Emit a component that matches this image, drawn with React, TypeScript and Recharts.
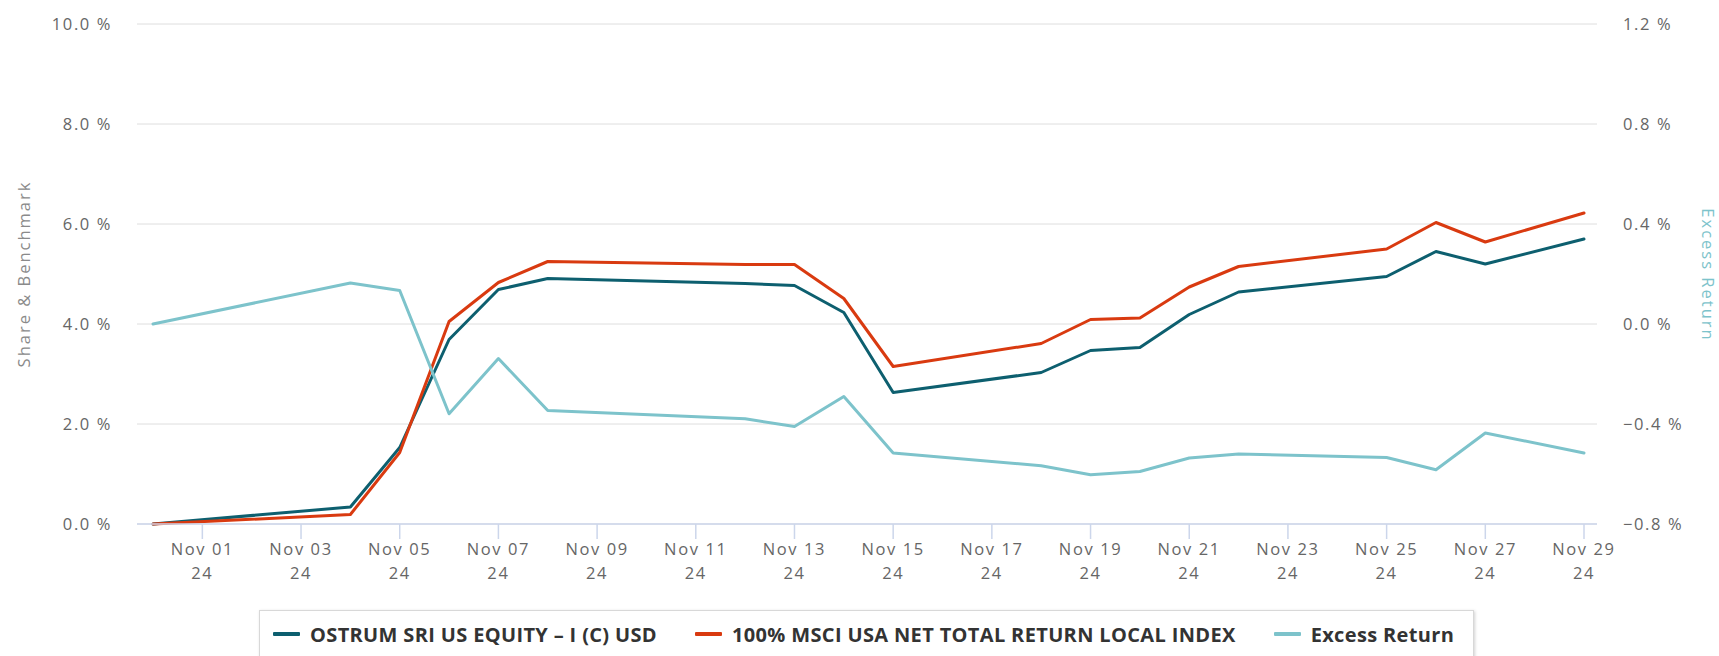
import { LineChart, Line, XAxis, YAxis, CartesianGrid } from 'recharts';

// trading days shown in the chart (Nov 1, Nov 11 and Nov 28 are missing in the source)
const dates = [
  '2024-10-31', '2024-11-04', '2024-11-05', '2024-11-06', '2024-11-07', '2024-11-08',
  '2024-11-12', '2024-11-13', '2024-11-14', '2024-11-15', '2024-11-18', '2024-11-19',
  '2024-11-20', '2024-11-21', '2024-11-22', '2024-11-25', '2024-11-26', '2024-11-27',
  '2024-11-29',
];

// cumulative returns, %
const fund = [0, 0.34, 1.53, 3.69, 4.69, 4.91, 4.81, 4.77, 4.23, 2.63, 3.03, 3.47, 3.53, 4.19, 4.64, 4.95, 5.45, 5.2, 5.7];
const benchmark = [0, 0.19, 1.43, 4.05, 4.83, 5.25, 5.19, 5.19, 4.51, 3.15, 3.61, 4.09, 4.12, 4.74, 5.15, 5.5, 6.03, 5.64, 6.22];
const excess = [0, 0.164, 0.134, -0.359, -0.138, -0.346, -0.379, -0.41, -0.29, -0.516, -0.567, -0.603, -0.59, -0.536, -0.52, -0.534, -0.583, -0.436, -0.516];

const tickDates = [
  '2024-11-01', '2024-11-03', '2024-11-05', '2024-11-07', '2024-11-09', '2024-11-11',
  '2024-11-13', '2024-11-15', '2024-11-17', '2024-11-19', '2024-11-21', '2024-11-23',
  '2024-11-25', '2024-11-27', '2024-11-29',
];
const leftTicks = [0, 2, 4, 6, 8, 10];
const rightTicks = [-0.8, -0.4, 0, 0.4, 0.8, 1.2];

const seriesNames = ['OSTRUM SRI US EQUITY – I (C) USD', '100% MSCI USA NET TOTAL RETURN LOCAL INDEX', 'Excess Return'];
const seriesColors = ['#0d5f6f', '#d93a10', '#7dc3cb'];

const DAY = 86400000;
const START = Date.parse(dates[0]);
const MONTHS = ['Jan', 'Feb', 'Mar', 'Apr', 'May', 'Jun', 'Jul', 'Aug', 'Sep', 'Oct', 'Nov', 'Dec'];
const FONT = "'Open Sans', sans-serif";

const dayOf = (d: string) => Math.round((Date.parse(d) - START) / DAY);

const data = dates.map((d, i) => ({
  day: dayOf(d),
  fund: fund[i],
  benchmark: benchmark[i],
  excess: excess[i],
}));
const tickDays = tickDates.map(dayOf);

const fmtPct = (v: number) => `${v < 0 ? '\u2212' : ''}${Math.abs(v).toFixed(1)} %`;

const DateTick = (props: any) => {
  const { x, y, payload } = props;
  const d = new Date(START + payload.value * DAY);
  const line1 = `${MONTHS[d.getUTCMonth()]} ${String(d.getUTCDate()).padStart(2, '0')}`;
  const line2 = String(d.getUTCFullYear()).slice(2);
  return (
    <text x={x} y={y} textAnchor="middle" fill="#666" fontSize={16.5} fontFamily={FONT} style={{ letterSpacing: 1.6 }}>
      <tspan x={x} dy={16}>{line1}</tspan>
      <tspan x={x} dy={24}>{line2}</tspan>
    </text>
  );
};

// rotated axis title; own prop names so the cloned label props don't clash
const AxisTitle = ({ posX, posY, rot, text, color }: any) => (
  <g transform={`translate(${posX}, ${posY}) rotate(${rot})`}>
    <text
      x={0}
      y={0}
      textAnchor="middle"
      dominantBaseline="central"
      fill={color}
      fontSize={16.5}
      fontFamily={FONT}
      style={{ letterSpacing: 2 }}
    >
      {text}
    </text>
  </g>
);

export default function App() {
  const tickStyle = { fill: '#666', fontSize: 16.5, fontFamily: FONT, letterSpacing: 1.6 };
  return (
    <div style={{ position: 'absolute', left: 0, top: 0, width: 1719, height: 656, background: '#fff', overflow: 'hidden' }}>
      <LineChart width={1719} height={656} data={data} margin={{ top: 24, right: 0, bottom: 72, left: 0 }}>
        <CartesianGrid yAxisId="left" vertical={false} stroke="#dedede" strokeWidth={1} />
        <XAxis
          dataKey="day"
          type="number"
          domain={[0, 29]}
          ticks={tickDays}
          interval={0}
          padding={{ left: 16, right: 13 }}
          height={60}
          tickSize={15}
          tickMargin={0}
          axisLine={{ stroke: '#ccd6eb', strokeWidth: 1.5 }}
          tickLine={{ stroke: '#ccd6eb', strokeWidth: 1.5 }}
          tick={<DateTick />}
        />
        <YAxis
          yAxisId="left"
          orientation="left"
          width={137}
          domain={[0, 10]}
          ticks={leftTicks}
          interval={0}
          axisLine={false}
          tickLine={false}
          tickSize={0}
          tickMargin={25}
          tick={tickStyle}
          tickFormatter={fmtPct}
          label={<AxisTitle posX={23} posY={274} rot={-90} text="Share & Benchmark" color="#8a8a8a" />}
        />
        <YAxis
          yAxisId="right"
          orientation="right"
          width={122}
          domain={[-0.8, 1.2]}
          ticks={rightTicks}
          interval={0}
          axisLine={false}
          tickLine={false}
          tickSize={0}
          tickMargin={26}
          tick={tickStyle}
          tickFormatter={fmtPct}
          label={<AxisTitle posX={1708} posY={275} rot={90} text="Excess Return" color={seriesColors[2]} />}
        />
        <Line yAxisId="left" type="linear" dataKey="fund" name={seriesNames[0]} stroke={seriesColors[0]} strokeWidth={3} dot={false} strokeLinejoin="round" strokeLinecap="round" isAnimationActive={false} />
        <Line yAxisId="left" type="linear" dataKey="benchmark" name={seriesNames[1]} stroke={seriesColors[1]} strokeWidth={3} dot={false} strokeLinejoin="round" strokeLinecap="round" isAnimationActive={false} />
        <Line yAxisId="right" type="linear" dataKey="excess" name={seriesNames[2]} stroke={seriesColors[2]} strokeWidth={3} dot={false} strokeLinejoin="round" strokeLinecap="round" isAnimationActive={false} />
      </LineChart>

      {/* legend box */}
      <div
        style={{
          position: 'absolute',
          left: 259,
          top: 610,
          width: 1215,
          height: 60,
          border: '1px solid #d8d8d8',
          boxShadow: '1px 1px 3px rgba(0,0,0,0.18)',
          background: '#fff',
          display: 'flex',
          alignItems: 'flex-start',
          paddingLeft: 13,
          boxSizing: 'border-box',
          gap: 38,
        }}
      >
        {seriesNames.map((name, i) => (
          <div key={name} style={{ display: 'flex', alignItems: 'center', gap: 10, height: 46 }}>
            <div style={{ width: 27, height: 4, background: seriesColors[i], borderRadius: 1 }} />
            <span style={{ fontFamily: FONT, fontWeight: 700, fontSize: 20, color: '#333', whiteSpace: 'nowrap', letterSpacing: 0.35 }}>
              {name}
            </span>
          </div>
        ))}
      </div>
    </div>
  );
}
